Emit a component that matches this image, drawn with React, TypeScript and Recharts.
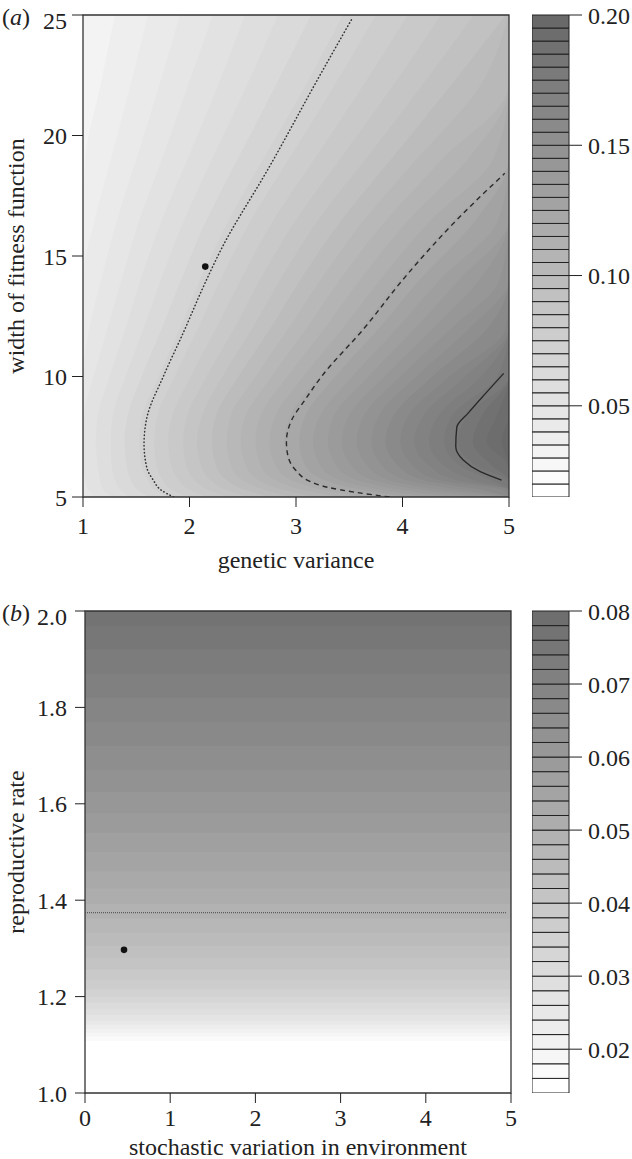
import {
  ComposedChart,
  Area,
  Line,
  XAxis,
  YAxis,
  ReferenceArea,
  ReferenceDot,
  ReferenceLine,
} from "recharts";

const FONT = '"Liberation Serif", "Times New Roman", serif';
const INK = "#222";

// ---- panel (a) ----
const varianceTicks = [1, 2, 3, 4, 5];
const widthTicks = [5, 10, 15, 20, 25];
const keyTicksA = [0.05, 0.1, 0.15, 0.2];

// band edges of the key in (a)
const levelsA = [
  0.015, 0.02, 0.025, 0.03, 0.035, 0.04, 0.045, 0.05, 0.055, 0.06, 0.065, 0.07, 0.075,
  0.08, 0.085, 0.09, 0.095, 0.1, 0.105, 0.11, 0.115, 0.12, 0.125, 0.13, 0.135, 0.14,
  0.145, 0.15, 0.155, 0.16, 0.165, 0.17, 0.175, 0.18, 0.185, 0.19, 0.195, 0.2,
];

// widths at which the contour positions were read
const widthSamples = [5, 5.3, 5.7, 6.3, 7.3, 8.4, 10, 12, 14, 16.5, 19, 22, 25];

// genetic variance where each level is crossed, one row per level
const boundaryA = [
  [1, 1, 1, 1, 1, 1, 1, 1, 1, 1, 1, 1, 1],
  [1, 1, 1, 1, 1, 1, 1, 1, 1, 1, 1, 1, 1],
  [1, 1, 1, 1, 1, 1, 1, 1, 1, 1, 1, 1, 1],
  [1, 1, 1, 1, 1, 1, 1, 1, 1, 1, 1, 1, 1],
  [1, 1, 1, 1, 1, 1, 1, 1, 1, 1, 1.02, 1.16, 1.3],
  [1, 1, 1, 1, 1, 1, 1, 1, 1, 1.11, 1.26, 1.44, 1.61],
  [1, 1, 1, 1, 1, 1, 1, 1.06, 1.17, 1.32, 1.5, 1.71, 1.91],
  [1.11, 1.05, 1.02, 1, 1, 1.01, 1.1, 1.23, 1.36, 1.53, 1.74, 1.98, 2.22],
  [1.27, 1.19, 1.16, 1.14, 1.12, 1.14, 1.25, 1.4, 1.54, 1.74, 1.98, 2.26, 2.52],
  [1.44, 1.35, 1.3, 1.27, 1.26, 1.28, 1.4, 1.57, 1.73, 1.95, 2.21, 2.53, 2.83],
  [1.62, 1.51, 1.45, 1.41, 1.39, 1.42, 1.55, 1.74, 1.92, 2.16, 2.45, 2.8, 3.14],
  [1.8, 1.67, 1.61, 1.55, 1.53, 1.56, 1.71, 1.91, 2.1, 2.37, 2.69, 3.08, 3.44],
  [1.98, 1.83, 1.75, 1.69, 1.67, 1.7, 1.86, 2.08, 2.29, 2.58, 2.93, 3.35, 3.75],
  [2.17, 2, 1.9, 1.83, 1.8, 1.84, 2.01, 2.25, 2.48, 2.79, 3.17, 3.62, 4.05],
  [2.36, 2.17, 2.05, 1.97, 1.94, 1.98, 2.16, 2.42, 2.66, 3, 3.41, 3.9, 4.36],
  [2.56, 2.34, 2.2, 2.11, 2.07, 2.12, 2.31, 2.59, 2.85, 3.21, 3.65, 4.17, 4.67],
  [2.76, 2.52, 2.35, 2.25, 2.21, 2.25, 2.46, 2.76, 3.04, 3.43, 3.89, 4.44, 4.97],
  [2.97, 2.7, 2.5, 2.39, 2.35, 2.39, 2.62, 2.93, 3.23, 3.64, 4.13, 4.72, 5],
  [3.18, 2.88, 2.65, 2.53, 2.48, 2.53, 2.77, 3.1, 3.41, 3.85, 4.37, 4.99, 5],
  [3.4, 3.06, 2.81, 2.67, 2.62, 2.67, 2.92, 3.27, 3.6, 4.06, 4.61, 5, 5],
  [3.62, 3.25, 2.96, 2.81, 2.75, 2.81, 3.07, 3.44, 3.79, 4.27, 4.85, 5, 5],
  [3.84, 3.44, 3.12, 2.95, 2.89, 2.95, 3.22, 3.61, 3.97, 4.48, 5, 5, 5],
  [4.06, 3.62, 3.27, 3.09, 3.03, 3.09, 3.37, 3.78, 4.16, 4.69, 5, 5, 5],
  [4.28, 3.8, 3.42, 3.23, 3.16, 3.23, 3.53, 3.95, 4.35, 4.9, 5, 5, 5],
  [4.5, 3.99, 3.58, 3.38, 3.3, 3.36, 3.68, 4.12, 4.53, 5, 5, 5, 5],
  [4.72, 4.18, 3.73, 3.52, 3.43, 3.5, 3.83, 4.29, 4.72, 5, 5, 5, 5],
  [4.94, 4.36, 3.88, 3.67, 3.57, 3.64, 3.98, 4.46, 4.91, 5, 5, 5, 5],
  [5, 4.55, 4.04, 3.81, 3.71, 3.78, 4.13, 4.63, 5, 5, 5, 5, 5],
  [5, 4.74, 4.2, 3.96, 3.84, 3.92, 4.28, 4.8, 5, 5, 5, 5, 5],
  [5, 4.94, 4.35, 4.1, 3.98, 4.06, 4.44, 4.97, 5, 5, 5, 5, 5],
  [5, 5, 4.51, 4.25, 4.11, 4.2, 4.59, 5, 5, 5, 5, 5, 5],
  [5, 5, 4.67, 4.39, 4.25, 4.34, 4.74, 5, 5, 5, 5, 5, 5],
  [5, 5, 4.83, 4.54, 4.39, 4.47, 4.89, 5, 5, 5, 5, 5, 5],
  [5, 5, 4.98, 4.69, 4.52, 4.61, 5, 5, 5, 5, 5, 5, 5],
  [5, 5, 5, 4.84, 4.66, 4.75, 5, 5, 5, 5, 5, 5, 5],
  [5, 5, 5, 4.99, 4.79, 4.89, 5, 5, 5, 5, 5, 5, 5],
  [5, 5, 5, 5, 4.93, 5, 5, 5, 5, 5, 5, 5, 5],
];

// overlaid contour lines: [genetic variance, width]
const dottedA = [
  [1.85, 5], [1.73, 5.3], [1.66, 5.7], [1.6, 6.2], [1.573, 7.2], [1.6, 8.3], [1.754, 10],
  [1.94, 11.8], [2.148, 13.9], [2.3, 15.3], [2.75, 18.7], [3.225, 22.5], [3.52, 24.8],
];
const dashedA = [
  [3.88, 5], [3.55, 5.2], [3.3, 5.4], [3.13, 5.65], [3.0, 6.1], [2.92, 6.8], [2.91, 7.3],
  [2.96, 8.2], [3.08, 9], [3.24, 10], [3.64, 12], [4.0, 14], [4.51, 16.5], [4.96, 18.43],
];
const solidA = [
  [4.93, 5.7], [4.73, 6.05], [4.57, 6.54], [4.5, 7.1], [4.51, 7.9], [4.62, 8.5], [4.78, 9.3],
  [4.95, 10.13],
];
const pointA = [2.148, 14.56];

// ---- panel (b) ----
const stochasticTicks = [0, 1, 2, 3, 4, 5];
const rateTicks = [1.0, 1.2, 1.4, 1.6, 1.8, 2.0];
const keyTicksB = [0.02, 0.03, 0.04, 0.05, 0.06, 0.07, 0.08];

const levelsB = [
  0.014, 0.016, 0.018, 0.02, 0.022, 0.024, 0.026, 0.028, 0.03, 0.032, 0.034, 0.036,
  0.038, 0.04, 0.042, 0.044, 0.046, 0.048, 0.05, 0.052, 0.054, 0.056, 0.058, 0.06,
  0.062, 0.064, 0.066, 0.068, 0.07, 0.072, 0.074, 0.076, 0.078, 0.08,
];

// reproductive rate where each level of (b) is crossed
const rateCrossings = [
  1.1, 1.108, 1.117, 1.125, 1.133, 1.142, 1.15, 1.162, 1.175, 1.188, 1.2, 1.215, 1.235,
  1.256, 1.28, 1.305, 1.333, 1.362, 1.392, 1.425, 1.46, 1.5, 1.54, 1.58, 1.625, 1.67,
  1.72, 1.77, 1.82, 1.87, 1.92, 1.97,
];
const thresholdRate = 1.374;
const pointB = [0.458, 1.297];

const greyScale = (n: number, darkest: number) =>
  Array.from({ length: n }, (_, k) => {
    const g = Math.round(255 - (k * (255 - darkest)) / (n - 1));
    const h = g.toString(16).padStart(2, "0");
    return `#${h}${h}${h}`;
  });

const shadesA = greyScale(levelsA.length - 1, 105);
const shadesB = greyScale(levelsB.length - 1, 110);

const tableA = widthSamples.map((y, i) => {
  const row: Record<string, any> = { y };
  boundaryA.forEach((xs, k) => {
    row[`b${k}`] = [5, xs[i]];
  });
  return row;
});

const toRows = (pts: number[][]) => pts.map(([v, y]) => ({ y, v }));

const tickStyle = { fontSize: 24, fill: INK, fontFamily: FONT };
const titleStyle = { fontSize: 24, fill: INK, fontFamily: FONT };

// left axis labels; the top one sits a little lower, as in the figure
const LeftTick = ({ x, y, payload, top, digits }: any) => (
  <text
    x={x}
    y={y + (payload.value === top ? 5 : 0)}
    dy="0.355em"
    textAnchor="end"
    fontSize={24}
    fill={INK}
    fontFamily={FONT}
  >
    {digits ? Number(payload.value).toFixed(digits) : payload.value}
  </text>
);

function ColorKey({ top, height, marginTop, levels, shades, ticks }: any) {
  return (
    <div style={{ position: "absolute", left: 532, top }}>
      <ComposedChart
        width={100}
        height={height}
        data={[{ x: 0 }, { x: 1 }]}
        margin={{ top: marginTop, right: 0, bottom: 0, left: 0 }}
      >
        <XAxis type="number" dataKey="x" domain={[0, 1]} hide />
        <YAxis
          type="number"
          orientation="right"
          domain={[levels[0], levels[levels.length - 1]]}
          ticks={ticks}
          interval={0}
          allowDataOverflow
          tickFormatter={(v: number) => v.toFixed(2)}
          width={63}
          tickSize={13}
          tickMargin={6}
          axisLine={false}
          tickLine={{ stroke: INK }}
          tick={tickStyle}
        />
        {shades.map((c: string, k: number) => (
          <ReferenceArea
            key={k}
            y1={levels[k]}
            y2={levels[k + 1]}
            fill={c}
            fillOpacity={1}
            stroke={INK}
            strokeWidth={1}
          />
        ))}
      </ComposedChart>
    </div>
  );
}

export default function App() {
  return (
    <div
      style={{
        position: "absolute",
        left: 0,
        top: 0,
        width: 632,
        height: 1159,
        background: "#fff",
        fontFamily: FONT,
      }}
    >
      <div style={{ position: "absolute", left: 0, top: 0 }}>
        <ComposedChart
          layout="vertical"
          width={520}
          height={577}
          data={tableA}
          margin={{ top: 15, right: 11, bottom: 0, left: 0 }}
        >
          <XAxis
            type="number"
            domain={[1, 5]}
            ticks={varianceTicks}
            interval={0}
            allowDataOverflow
            height={80}
            tickSize={10}
            tickMargin={10}
            axisLine={false}
            tickLine={{ stroke: INK }}
            tick={tickStyle}
            label={{ value: "genetic variance", position: "insideBottom", offset: 9, ...titleStyle }}
          />
          <YAxis
            type="number"
            dataKey="y"
            domain={[5, 25]}
            ticks={widthTicks}
            interval={0}
            reversed
            allowDataOverflow
            width={83}
            tickSize={11}
            tickMargin={5}
            axisLine={false}
            tickLine={{ stroke: INK }}
            tick={<LeftTick top={25} />}
            label={{
              value: "width of fitness function",
              angle: -90,
              position: "center",
              dx: -26,
              ...titleStyle,
            }}
          />
          {boundaryA.map((_, k) => (
            <Area
              key={k}
              dataKey={`b${k}`}
              type="monotone"
              fill={shadesA[k]}
              fillOpacity={1}
              stroke="none"
              dot={false}
              activeDot={false}
              isAnimationActive={false}
            />
          ))}
          <Line
            data={toRows(dottedA)}
            dataKey="v"
            type="monotone"
            stroke="#333"
            strokeWidth={1.5}
            strokeDasharray="0.5 3"
            strokeLinecap="round"
            dot={false}
            activeDot={false}
            isAnimationActive={false}
          />
          <Line
            data={toRows(dashedA)}
            dataKey="v"
            type="monotone"
            stroke="#2a2a2a"
            strokeWidth={1.4}
            strokeDasharray="5 4"
            dot={false}
            activeDot={false}
            isAnimationActive={false}
          />
          <Line
            data={toRows(solidA)}
            dataKey="v"
            type="monotone"
            stroke="#2a2a2a"
            strokeWidth={1.4}
            dot={false}
            activeDot={false}
            isAnimationActive={false}
          />
          <ReferenceDot x={pointA[0]} y={pointA[1]} r={3.3} fill="#111" stroke="none" />
          <ReferenceArea x1={1} x2={5} y1={5} y2={25} fill="none" stroke="#333" strokeWidth={1.3} />
        </ComposedChart>
      </div>
      <ColorKey top={0} height={497} marginTop={15} levels={levelsA} shades={shadesA} ticks={keyTicksA} />
      <div
        style={{ position: "absolute", left: 2, top: 5, fontSize: 24, lineHeight: "24px", color: INK }}
      >
        (<i>a</i>)
      </div>

      <div style={{ position: "absolute", left: 0, top: 590 }}>
        <ComposedChart
          width={520}
          height={569}
          data={[{ x: 0 }, { x: 5 }]}
          margin={{ top: 21, right: 9, bottom: 0, left: 0 }}
        >
          <XAxis
            type="number"
            dataKey="x"
            domain={[0, 5]}
            ticks={stochasticTicks}
            interval={0}
            allowDataOverflow
            height={66}
            tickSize={10}
            tickMargin={6}
            axisLine={false}
            tickLine={{ stroke: INK }}
            tick={tickStyle}
            label={{
              value: "stochastic variation in environment",
              position: "insideBottom",
              offset: 4,
              ...titleStyle,
            }}
          />
          <YAxis
            type="number"
            domain={[1, 2]}
            ticks={rateTicks}
            interval={0}
            allowDataOverflow
            width={85}
            tickSize={10}
            tickMargin={8}
            axisLine={false}
            tickLine={{ stroke: INK }}
            tick={<LeftTick top={2} digits={1} />}
            label={{
              value: "reproductive rate",
              angle: -90,
              position: "center",
              dx: -27,
              ...titleStyle,
            }}
          />
          {rateCrossings.map((r, k) => (
            <ReferenceArea key={k} y1={r} y2={2} fill={shadesB[k]} fillOpacity={1} stroke="none" />
          ))}
          <ReferenceLine
            segment={[
              { x: 0, y: thresholdRate },
              { x: 4.95, y: thresholdRate },
            ]}
            stroke="#444"
            strokeWidth={1}
            strokeDasharray="1 1"
          />
          <ReferenceDot x={pointB[0]} y={pointB[1]} r={3.3} fill="#111" stroke="none" />
          <ReferenceArea x1={0} x2={5} y1={1} y2={2} fill="none" stroke="#333" strokeWidth={1.3} />
        </ComposedChart>
      </div>
      <ColorKey top={590} height={503} marginTop={21} levels={levelsB} shades={shadesB} ticks={keyTicksB} />
      <div
        style={{ position: "absolute", left: 2, top: 601, fontSize: 24, lineHeight: "24px", color: INK }}
      >
        (<i>b</i>)
      </div>
    </div>
  );
}
